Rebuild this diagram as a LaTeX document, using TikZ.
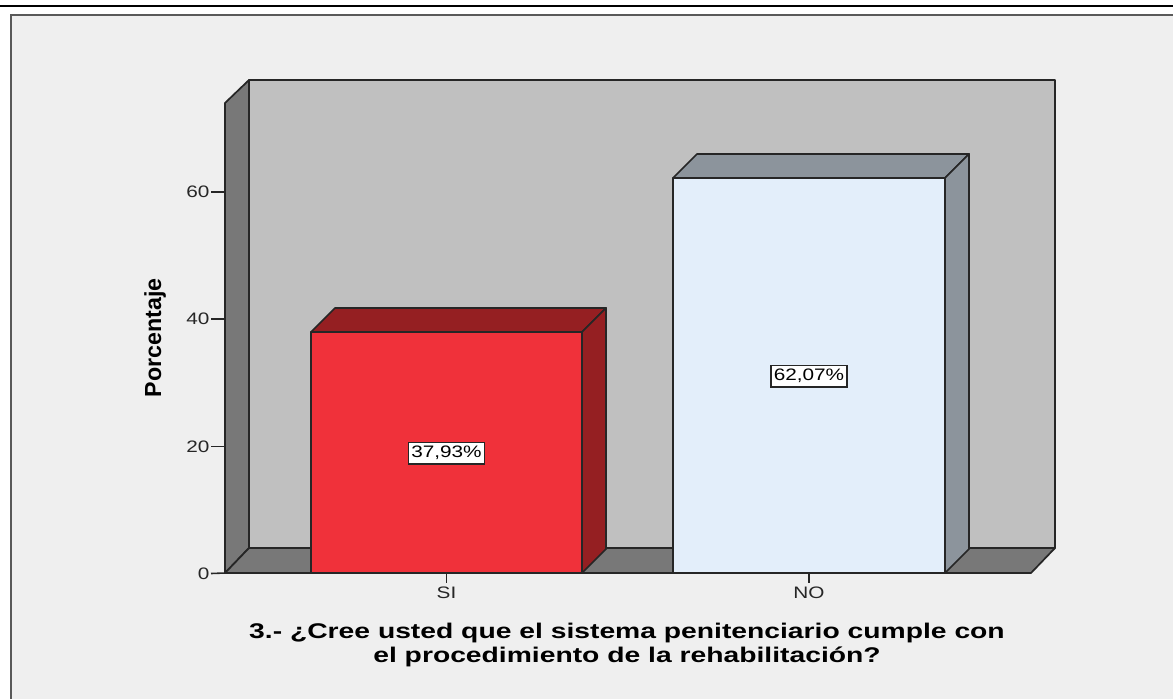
\documentclass[tikz,border=0pt]{standalone}
\usepackage{fontspec}
\setmainfont{Liberation Sans}
\newfontfamily\chartfont[FakeStretch=1.25]{Liberation Sans}
\newfontfamily\titlefont[FakeStretch=1.33]{Liberation Sans}
\usepackage{tikz}
\usetikzlibrary{positioning}
\pgfdeclarelayer{backlayer}
\pgfdeclarelayer{walllayer}
\pgfdeclarelayer{barlayer}
\pgfsetlayers{backlayer,walllayer,barlayer,main}
\definecolor{panel}{HTML}{EFEFEF}
\definecolor{wallback}{HTML}{C0C0C0}
\definecolor{wallside}{HTML}{787878}
\definecolor{sifront}{HTML}{F0313A}
\definecolor{siside}{HTML}{951F22}
\definecolor{nofront}{HTML}{E3EEFA}
\definecolor{noside}{HTML}{8C949C}
\tikzset{
  face/.style={draw=black!85, line width=1.3pt, line join=round},
  tick/.style={draw=black!85, line width=1.2pt},
  ticklabel/.style={font=\chartfont\fontsize{12.5}{15}\selectfont, text=black!85, inner sep=1pt},
  valuebox/.style={draw=black!85, fill=white, line width=1pt, inner xsep=2pt, inner ysep=3pt,
    font=\chartfont\fontsize{12.5}{14}\selectfont}
}

\begin{document}
\begin{tikzpicture}[x=0.02646cm, y=-0.02646cm]
  \useasboundingbox (0,0) rectangle (1173,698);
  \begin{pgfonlayer}{backlayer}
    \fill[white] (0,0) rectangle (1173,698);
    \draw[line width=1.5pt] (0,6) -- (1173,6);
    \fill[panel] (11,15) rectangle (1180,705);
    \draw[black!65, line width=1.2pt] (11,705) -- (11,15) -- (1180,15);
  \end{pgfonlayer}

  % axis frame
  \coordinate (o) at (225,573);
  \coordinate (ot) at (225,103);
  \coordinate (b) at (249,548);
  \coordinate (bt) at (249,80);
  \coordinate (br) at (1055,548);
  \coordinate (brt) at (1055,80);
  \coordinate (fr) at (1031,573);
  \begin{pgfonlayer}{walllayer}
    \draw[face, fill=wallback] (b) -- (bt) -- (brt) -- (br) -- cycle;
    \draw[face, fill=wallside] (o) -- (ot) -- (bt) -- (b) -- cycle;
    \draw[face, fill=wallside] (o) -- (b) -- (br) -- (fr) -- cycle;
  \end{pgfonlayer}

  % bars
  \begin{pgfonlayer}{barlayer}
    \draw[face, fill=sifront] (311,573) rectangle (582,332);
    \draw[face, fill=siside] (311,332) -- (335,308) -- (606,308) -- (582,332) -- cycle;
    \draw[face, fill=siside] (582,332) -- (606,308) -- (606,549) -- (582,573) -- cycle;
    \draw[face, fill=nofront] (673,573) rectangle (945,178);
    \draw[face, fill=noside] (673,178) -- (697,154) -- (969,154) -- (945,178) -- cycle;
    \draw[face, fill=noside] (945,178) -- (969,154) -- (969,549) -- (945,573) -- cycle;
  \end{pgfonlayer}

  % y axis
  \node[ticklabel, anchor=east] (y0) at (211,573.5) {0};
  \node[ticklabel, anchor=east] (y20) at (211,446.3) {20};
  \node[ticklabel, anchor=east] (y40) at (211,319) {40};
  \node[ticklabel, anchor=east] (y60) at (211,191.7) {60};
  \draw[tick] (y0.east) -- (o);
  \draw[tick] (y20.east) -- (225,446.3);
  \draw[tick] (y40.east) -- (225,319);
  \draw[tick] (y60.east) -- (225,191.7);
  \node[rotate=90, font=\bfseries\fontsize{17.5}{20}\selectfont] (ylab) at (155,338) {Porcentaje};

  % x axis
  \coordinate (tsi) at (446.5,583);
  \coordinate (tno) at (809,583);
  \draw[tick] (446.5,573) -- (tsi);
  \draw[tick] (809,573) -- (tno);
  \node[ticklabel, below=2pt of tsi] (si) {SI};
  \node[ticklabel, below=2pt of tno] (no) {NO};

  % values
  \node[valuebox] (vsi) at (446.5,453) {37,93\%};
  \node[valuebox] (vno) at (809,376) {62,07\%};

  % title
  \node[align=center, font=\titlefont\bfseries\fontsize{16}{17.5}\selectfont] (title) at (627,645)
    {3.- ¿Cree usted que el sistema penitenciario cumple con\\el procedimiento de la rehabilitación?};
\end{tikzpicture}
\end{document}
